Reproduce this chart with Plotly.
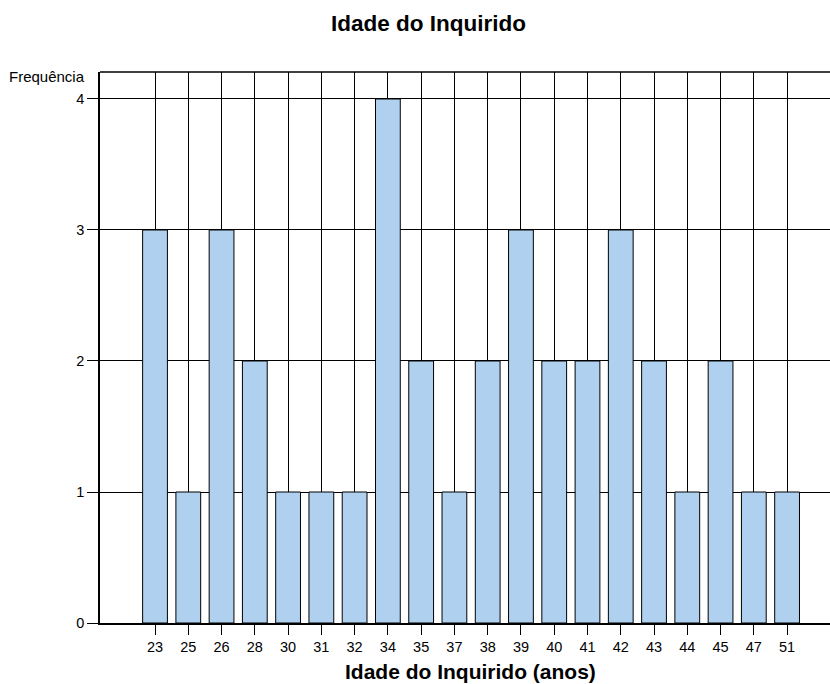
import plotly.graph_objects as go

ages = ["23", "25", "26", "28", "30", "31", "32", "34", "35", "37",
        "38", "39", "40", "41", "42", "43", "44", "45", "47", "51"]
freq = [3, 1, 3, 2, 1, 1, 1, 4, 2, 1, 2, 3, 2, 2, 3, 2, 1, 2, 1, 1]

fig = go.Figure()
fig.add_trace(go.Bar(
    x=list(range(len(ages))), y=freq,
    marker=dict(color="#afd0ee", line=dict(color="black", width=1)),
    width=0.745,
))

font = "Liberation Sans, Arial, sans-serif"
fig.update_layout(
    width=830, height=684,
    margin=dict(l=100, r=0, t=72, b=61),
    plot_bgcolor="white", paper_bgcolor="white",
    showlegend=False,
    font=dict(family=font, size=14, color="black"),
    xaxis=dict(
        range=[-1.654, 20.29],
        tickvals=list(range(len(ages))), ticktext=ages,
        showgrid=True, gridcolor="black", gridwidth=1,
        showline=True, linecolor="black", linewidth=1.5,
        ticks="outside", ticklen=10, tickwidth=1, tickcolor="black",
        tickfont=dict(size=14.5),
        zeroline=False,
    ),
    yaxis=dict(
        range=[0, 4.206],
        tickvals=[0, 1, 2, 3, 4],
        showgrid=True, gridcolor="black", gridwidth=1,
        showline=True, linecolor="black", linewidth=1.5,
        ticks="outside", ticklen=11, tickwidth=1, tickcolor="black",
        tickfont=dict(size=14.5),
        zeroline=False,
    ),
    shapes=[dict(type="line", xref="paper", yref="paper", x0=0, x1=1, y0=1, y1=1,
                 line=dict(color="black", width=1.5))],
    annotations=[
        dict(text="<b>Idade do Inquirido</b>", xref="paper", yref="paper",
             x=0.45, y=1, yshift=48.5, xanchor="center", yanchor="middle",
             showarrow=False, font=dict(size=22.5)),
        dict(text="<b>Idade do Inquirido (anos)</b>", xref="paper", yref="paper",
             x=0.508, y=0, yshift=-48, xanchor="center", yanchor="middle",
             showarrow=False, font=dict(size=21)),
        dict(text="Frequência", xref="paper", yref="paper",
             x=0, y=1, xshift=-13, yshift=-4, xanchor="right", yanchor="middle",
             showarrow=False, font=dict(size=15)),
    ],
)

fig.write_html("out.html",
               config={"displayModeBar": False},
               post_script="document.body.style.margin='0px';document.body.style.overflow='hidden';")
